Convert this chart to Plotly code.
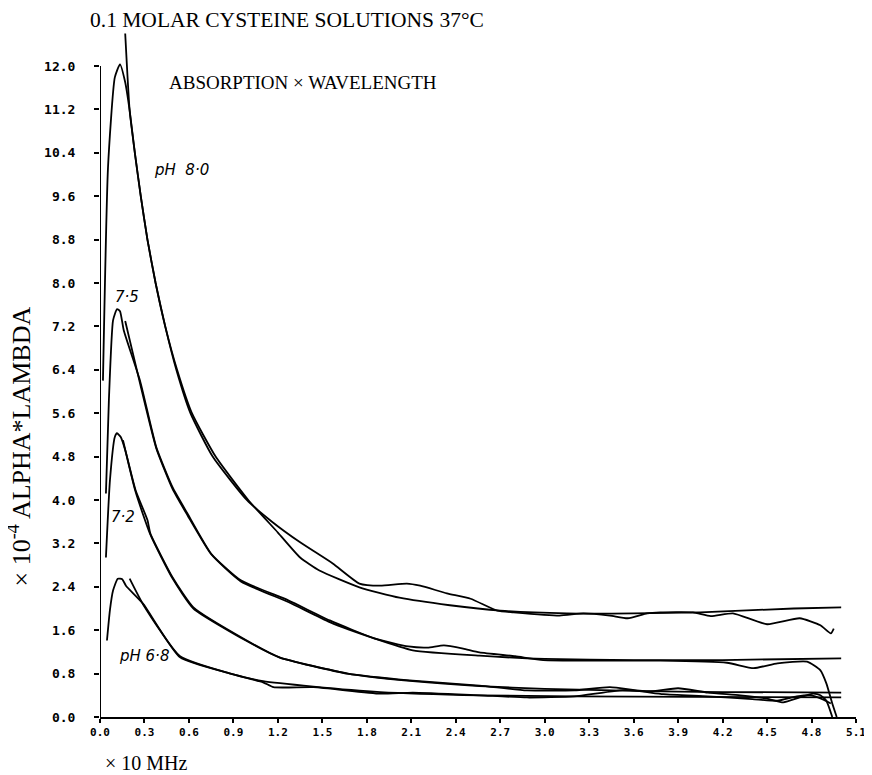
import plotly.graph_objects as go

# ---- data (x in units of 10 MHz, y in 1e-4 alpha*lambda) ----
x_ticks = [0.0, 0.3, 0.6, 0.9, 1.2, 1.5, 1.8, 2.1, 2.4, 2.7, 3.0, 3.3, 3.6, 3.9, 4.2, 4.5, 4.8, 5.1]
y_ticks = [0.0, 0.8, 1.6, 2.4, 3.2, 4.0, 4.8, 5.6, 6.4, 7.2, 8.0, 8.8, 9.6, 10.4, 11.2, 12.0]

# pH 8.0 measured
x_m80 = [0.02, 0.054, 0.10, 0.135, 0.17, 0.20, 0.235, 0.275, 0.32, 0.375, 0.44, 0.515, 0.61, 0.76, 0.99,
         1.16, 1.35, 1.57, 1.75, 1.89, 2.07, 2.16, 2.34, 2.50, 2.68, 2.79, 3.10, 3.26, 3.44, 3.56, 3.69,
         3.78, 4.00, 4.12, 4.27, 4.50, 4.72, 4.86, 4.93, 4.95]
y_m80 = [6.2, 10.13, 11.79, 12.03, 11.7, 11.18, 10.4, 9.6, 8.8, 8.0, 7.2, 6.4, 5.6, 4.8, 4.0,
         3.6, 3.22, 2.83, 2.46, 2.42, 2.46, 2.42, 2.28, 2.18, 1.96, 1.93, 1.87, 1.91, 1.87, 1.82, 1.91,
         1.93, 1.93, 1.86, 1.91, 1.71, 1.82, 1.69, 1.54, 1.63]
# pH 8.0 fit
x_f80 = [0.17, 0.20, 0.235, 0.275, 0.32, 0.375, 0.44, 0.52, 0.62, 0.78, 1.00, 1.20, 1.35, 1.48, 1.75,
         2.02, 2.36, 2.70, 3.15, 3.60, 4.05, 4.68, 5.00]
y_f80 = [12.6, 11.18, 10.4, 9.6, 8.8, 8.0, 7.2, 6.4, 5.6, 4.8, 4.0, 3.4, 2.94, 2.70, 2.39,
         2.20, 2.06, 1.96, 1.91, 1.91, 1.93, 2.00, 2.02]

# pH 7.5 measured
x_m75 = [0.04, 0.06, 0.088, 0.115, 0.135, 0.16, 0.27, 0.38, 0.49, 0.59, 0.75, 0.95, 1.27, 1.55, 1.85, 2.08,
         2.21, 2.32, 2.45, 2.56, 2.80, 2.99, 3.33, 3.78, 4.23, 4.41, 4.57, 4.77, 4.86, 4.90, 4.94, 4.97]
y_m75 = [4.12, 5.84, 7.31, 7.52, 7.48, 7.13, 6.20, 4.97, 4.23, 3.75, 3.01, 2.52, 2.15, 1.78, 1.45, 1.30,
         1.28, 1.32, 1.26, 1.19, 1.12, 1.05, 1.04, 1.04, 1.00, 0.90, 0.99, 1.02, 0.86, 0.62, 0.25, 0.0]
# pH 7.5 fit
x_f75 = [0.17, 0.27, 0.38, 0.49, 0.59, 0.75, 0.95, 1.27, 1.55, 1.85, 2.11, 2.56, 3.00, 3.60, 4.20, 5.00]
y_f75 = [7.30, 6.15, 4.95, 4.20, 3.72, 3.00, 2.50, 2.12, 1.75, 1.45, 1.23, 1.13, 1.07, 1.05, 1.05, 1.08]

# pH 7.2 measured
x_m72 = [0.04, 0.067, 0.10, 0.115, 0.14, 0.17, 0.24, 0.32, 0.34, 0.49, 0.63, 0.99, 1.21, 1.67, 2.11, 2.56,
         2.88, 3.20, 3.44, 3.70, 3.90, 4.10, 4.32, 4.50, 4.61, 4.72, 4.81, 4.86, 4.90, 4.94]
y_m72 = [2.94, 4.36, 5.16, 5.23, 5.16, 4.92, 4.18, 3.63, 3.38, 2.57, 2.02, 1.41, 1.10, 0.80, 0.67, 0.58,
         0.49, 0.49, 0.55, 0.47, 0.53, 0.45, 0.40, 0.34, 0.27, 0.36, 0.43, 0.40, 0.30, 0.0]
# pH 7.2 fit
x_f72 = [0.155, 0.24, 0.34, 0.49, 0.63, 0.99, 1.21, 1.67, 2.11, 2.56, 3.00, 3.60, 4.20, 5.00]
y_f72 = [5.10, 4.15, 3.36, 2.55, 2.00, 1.40, 1.10, 0.80, 0.66, 0.57, 0.52, 0.48, 0.46, 0.45]

# pH 6.8 measured
x_m68 = [0.047, 0.067, 0.088, 0.12, 0.15, 0.175, 0.29, 0.54, 0.88, 1.10, 1.17, 1.44, 1.89, 2.11, 2.56, 2.88,
         3.20, 3.55, 3.80, 4.10, 4.40, 4.57, 4.70, 4.80, 4.88, 4.93]
y_m68 = [1.41, 1.97, 2.33, 2.55, 2.54, 2.42, 2.09, 1.10, 0.80, 0.64, 0.55, 0.55, 0.43, 0.45, 0.40, 0.36,
         0.38, 0.50, 0.42, 0.38, 0.33, 0.30, 0.38, 0.40, 0.32, 0.25]
# pH 6.8 fit
x_f68 = [0.20, 0.29, 0.54, 0.88, 1.10, 1.44, 1.89, 2.56, 3.20, 4.00, 5.00]
y_f68 = [2.55, 2.08, 1.12, 0.80, 0.66, 0.56, 0.46, 0.40, 0.38, 0.37, 0.36]

curves = [
    (x_m80, y_m80), (x_f80, y_f80),
    (x_m75, y_m75), (x_f75, y_f75),
    (x_m72, y_m72), (x_f72, y_f72),
    (x_m68, y_m68), (x_f68, y_f68),
]

fig = go.Figure()
for xs, ys in curves:
    fig.add_trace(go.Scatter(
        x=xs, y=ys, mode="lines",
        line=dict(color="black", width=1.8, shape="spline", smoothing=0.5),
        showlegend=False, hoverinfo="skip"))

serif = "Liberation Serif"
hand = dict(family="DejaVu Sans", size=15, color="black", style="italic")

fig.update_layout(
    width=872, height=775, autosize=False,
    margin=dict(l=92, r=24, t=20, b=66),
    paper_bgcolor="white", plot_bgcolor="white",
    xaxis=dict(range=[0, 5.1], tickvals=x_ticks, ticktext=[f"{v:.1f}" for v in x_ticks],
               showline=True, linecolor="black", linewidth=2, ticks="outside", ticklen=4,
               tickwidth=1.5, tickcolor="black", showgrid=False, zeroline=False,
               tickfont=dict(family="DejaVu Sans Mono", size=11, color="black", weight="bold"),
               automargin=False),
    yaxis=dict(range=[0, 12.7], tickvals=y_ticks, ticktext=[f"{v:.1f}" for v in y_ticks],
               showline=False, ticks="outside", ticklen=5, tickwidth=1.5, tickcolor="black",
               showgrid=False, zeroline=False,
               tickfont=dict(family="DejaVu Sans Mono", size=13, color="black", weight="bold"),
               ticklabelstandoff=16, automargin=False),
    shapes=[dict(type="line", xref="x", yref="y", x0=0, x1=0, y0=0, y1=y_ticks[-1],
                 line=dict(color="black", width=2))],
    annotations=[
        dict(text="0.1 MOLAR CYSTEINE SOLUTIONS 37°C", x=-0.0159, y=1.0116, xref="paper", yref="paper",
             xanchor="left", yanchor="middle", showarrow=False,
             font=dict(family=serif, size=21.5, color="black")),
        dict(text="ABSORPTION × WAVELENGTH", x=0.45, y=11.69, xref="x", yref="y",
             xanchor="left", yanchor="middle", showarrow=False,
             font=dict(family=serif, size=19, color="black")),
        dict(text="× 10 MHz", x=0.004, y=-0.0668, xref="paper", yref="paper",
             xanchor="left", yanchor="middle", showarrow=False,
             font=dict(family=serif, size=20, color="black")),
        dict(text="× 10<sup>-4</sup> ALPHA*LAMBDA", x=-0.1065, y=0.3933, xref="paper", yref="paper",
             xanchor="center", yanchor="middle", textangle=-90, showarrow=False,
             font=dict(family=serif, size=26, color="black")),
        dict(text="pH  8·0", x=0.55, y=10.08, xref="x", yref="y", showarrow=False, font=hand),
        dict(text="7·5", x=0.18, y=7.74, xref="x", yref="y", showarrow=False, font=hand),
        dict(text="7·2", x=0.155, y=3.68, xref="x", yref="y", showarrow=False, font=hand),
        dict(text="pH 6·8", x=0.30, y=1.12, xref="x", yref="y", showarrow=False, font=hand),
    ],
)

fig.write_html("out.html")
